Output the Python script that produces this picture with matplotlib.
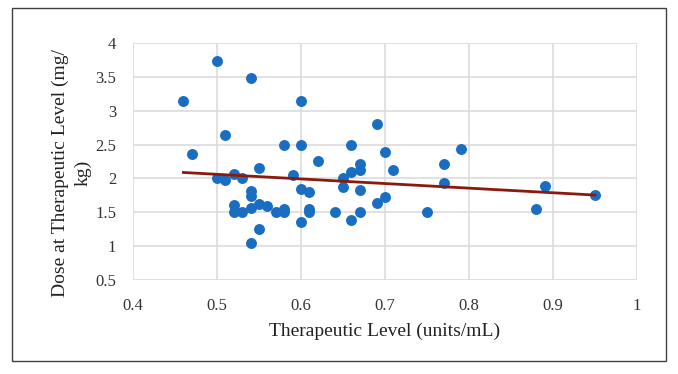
import numpy as np
import matplotlib
matplotlib.use("Agg")
import matplotlib.pyplot as plt
from matplotlib.patches import Rectangle

level = [0.46, 0.47, 0.50, 0.50, 0.51, 0.51, 0.52, 0.52, 0.52, 0.53, 0.53,
         0.54, 0.54, 0.54, 0.54, 0.54, 0.55, 0.55, 0.55, 0.56, 0.57, 0.58,
         0.58, 0.58, 0.59, 0.60, 0.60, 0.60, 0.60, 0.61, 0.61, 0.61, 0.62,
         0.64, 0.65, 0.65, 0.66, 0.66, 0.66, 0.67, 0.67, 0.67, 0.67, 0.69,
         0.69, 0.70, 0.70, 0.71, 0.75, 0.77, 0.77, 0.79, 0.88, 0.89, 0.95]
dose = [3.14, 2.36, 3.74, 2.00, 2.64, 1.97, 2.07, 1.61, 1.50, 2.00, 1.50,
        3.49, 1.81, 1.74, 1.57, 1.04, 2.16, 1.62, 1.25, 1.60, 1.50, 2.49,
        1.55, 1.50, 2.05, 3.15, 2.49, 1.85, 1.36, 1.80, 1.55, 1.50, 2.26,
        1.50, 2.00, 1.87, 2.49, 2.09, 1.38, 2.22, 2.12, 1.83, 1.50, 2.81,
        1.64, 2.39, 1.72, 2.13, 1.50, 2.22, 1.93, 2.44, 1.55, 1.89, 1.75]
x_ticks = [0.4, 0.5, 0.6, 0.7, 0.8, 0.9, 1.0]
x_tick_labels = ["0.4", "0.5", "0.6", "0.7", "0.8", "0.9", "1"]
y_ticks = [0.5, 1, 1.5, 2, 2.5, 3, 3.5, 4]
y_tick_labels = ["0.5", "1", "1.5", "2", "2.5", "3", "3.5", "4"]

plt.rcParams['font.family'] = ['Liberation Serif', 'DejaVu Serif']

fig = plt.figure(figsize=(6.78, 3.74), dpi=100)
fig.patches.append(Rectangle((12/678, 1-361/374), 654/678, 353/374,
                             transform=fig.transFigure, fill=False,
                             edgecolor='#404040', linewidth=1.0))
ax = fig.add_axes([133/678, 1-280/374, 504/678, 237/374])

ax.set_xlim(0.4, 1.0)
ax.set_ylim(0.5, 4.0)
ax.set_xticks(x_ticks)
ax.set_xticklabels(x_tick_labels)
ax.set_yticks(y_ticks)
ax.set_yticklabels(y_tick_labels)
ax.grid(True, color='#dcdcdc', linewidth=1.2)
ax.set_axisbelow(True)
for s in ax.spines.values():
    s.set_visible(False)
ax.tick_params(length=0, labelsize=12, colors='#333333')
ax.tick_params(axis='y', pad=12)
ax.tick_params(axis='x', pad=13)

ax.scatter(level, dose, s=62, color='#1a6ec2', zorder=3, linewidths=0)

coef = np.polyfit(level, dose, 1)
xs = np.array([min(level), max(level)])
ax.plot(xs, np.polyval(coef, xs), color='#8b1a0e', linewidth=2.0, zorder=4)

ax.set_xlabel("Therapeutic Level (units/mL)", fontsize=14, color='#222222', labelpad=6)
ax.set_ylabel("Dose at Therapeutic Level (mg/\nkg)", fontsize=14, color='#222222',
              linespacing=1.4)
ax.yaxis.set_label_coords(-0.082, 0.45)

fig.savefig("out.png", dpi=100)
